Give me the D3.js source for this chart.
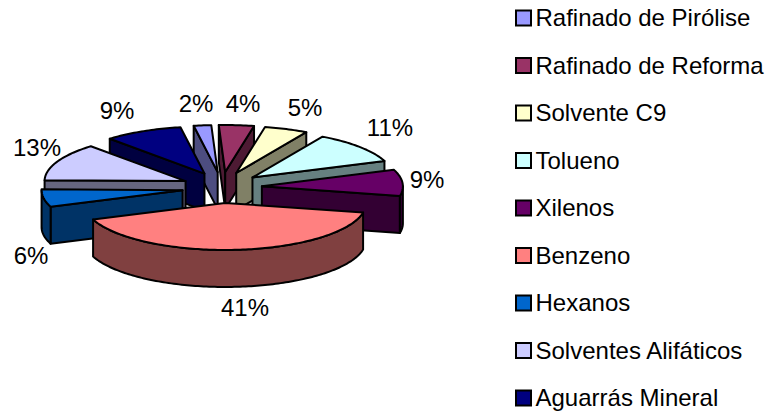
<!DOCTYPE html>
<html>
<head>
<meta charset="utf-8">
<script src="https://cdn.jsdelivr.net/npm/d3@7"></script>
<style>
html,body{margin:0;padding:0;background:#fff}
svg{display:block}
text{font-family:"Liberation Sans",Arial,sans-serif;fill:#000}
</style>
</head>
<body>
<svg id="c" width="769" height="414"></svg>
<script>
const categories = ["Rafinado de Pirólise","Rafinado de Reforma","Solvente C9","Tolueno","Xilenos","Benzeno","Hexanos","Solventes Alifáticos","Aguarrás Mineral"];
const values = [2,4,5,11,9,41,6,13,9];
const colors = ["#9999FF","#993366","#FFFFCC","#CCFFFF","#660066","#FF8080","#0066CC","#CCCCFF","#000080"];
const labelX = [196,243,305,390,427,245,31,37,117];
const labelY = [104,104,108,128,180,308,256,148,111];

const W=769,H=414, rx=141, ry=47, depth=37, cx=222, cy=187.5, ex=40, ey=15.5, startDeg=-9.8;
const FS=24;
const svg=d3.select("#c");
const pie=d3.pie().sort(null).value(d=>d.v).startAngle(startDeg*Math.PI/180).endAngle((360+startDeg)*Math.PI/180);
const arcs=pie(values.map((v,i)=>({v,i})));
const line=d3.line();
const dark=c=>{const r=d3.rgb(c);return d3.rgb(r.r/2,r.g/2,r.b/2).formatHex();};

arcs.forEach(a=>{a.mid=(a.startAngle+a.endAngle)/2;a.ax=cx+ex*Math.sin(a.mid);a.ay=cy-ey*Math.cos(a.mid);});
const rim=(a,t,dz=0)=>[a.ax+rx*Math.sin(t),a.ay-ry*Math.cos(t)+dz];
const sweep=(a,t0,t1,dz=0)=>{const n=Math.max(2,Math.ceil((t1-t0)/0.02));return d3.range(n+1).map(k=>rim(a,t0+(t1-t0)*k/n,dz));};

const order=arcs.slice().sort((p,q)=>Math.cos(q.mid)-Math.cos(p.mid));
const g=svg.append("g").attr("stroke","#000").attr("stroke-width",2).attr("stroke-linejoin","round");
order.forEach(a=>{
  const c=colors[a.data.i], d=dark(c);
  const wall=pts=>g.append("path").attr("d",line(pts)+"Z").attr("fill",d);
  if(Math.sin(a.startAngle)<0){const p=rim(a,a.startAngle);wall([[a.ax,a.ay],p,[p[0],p[1]+depth],[a.ax,a.ay+depth]]);}
  if(Math.sin(a.endAngle)>0){const p=rim(a,a.endAngle);wall([[a.ax,a.ay],p,[p[0],p[1]+depth],[a.ax,a.ay+depth]]);}
  const t0=Math.max(a.startAngle,Math.PI/2), t1=Math.min(a.endAngle,Math.PI*1.5);
  if(t1>t0){wall(sweep(a,t0,t1).concat(sweep(a,t0,t1,depth).reverse()));}
  g.append("path").attr("d",line([[a.ax,a.ay]].concat(sweep(a,a.startAngle,a.endAngle)))+"Z").attr("fill",c);
});

svg.append("g").selectAll("text").data(values).join("text")
  .attr("x",(d,i)=>labelX[i]).attr("y",(d,i)=>labelY[i]).attr("dy","0.35em")
  .attr("text-anchor","middle").attr("font-size",FS).text(d=>d+"%");

const ly=d3.scalePoint().domain(categories).range([18,398]);
const lg=svg.append("g").selectAll("g").data(categories).join("g").attr("transform",d=>`translate(0,${ly(d)})`);
lg.append("rect").attr("x",516).attr("y",-7.5).attr("width",15).attr("height",15)
  .attr("fill",(d,i)=>colors[i]).attr("stroke","#000").attr("stroke-width",2);
lg.append("text").attr("x",535.5).attr("dy","0.35em").attr("font-size",FS).text(d=>d);
</script>
</body>
</html>
